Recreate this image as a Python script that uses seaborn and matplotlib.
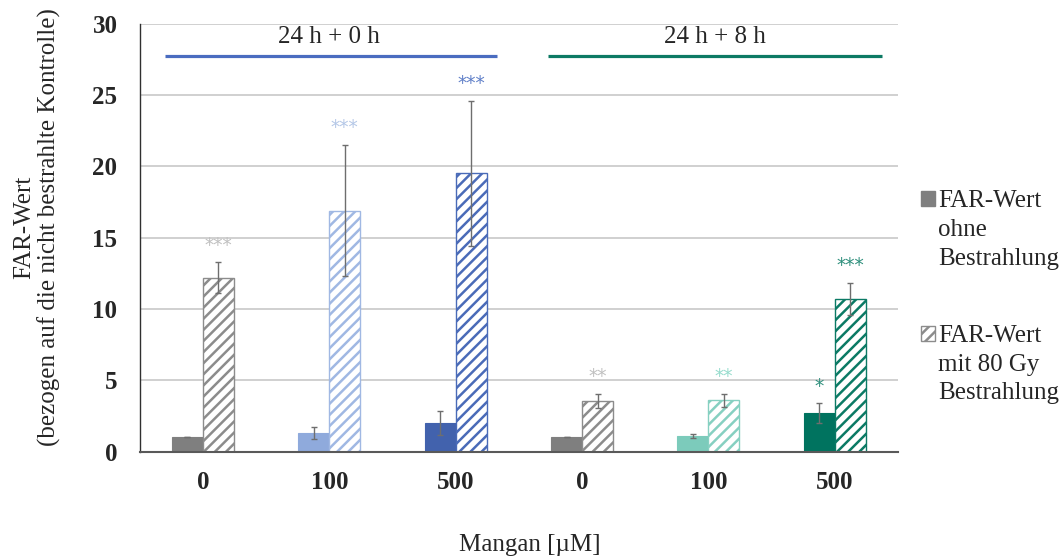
import numpy as np
import pandas as pd
import matplotlib.pyplot as plt
import seaborn as sns
from matplotlib.patches import Patch, Rectangle
from matplotlib.legend_handler import HandlerPatch

# Werte
dosen = ["0", "100", "500", "0", "100", "500"]
gruppen = ["24 h + 0 h", "24 h + 8 h"]
far_ohne = [1.0, 1.3, 2.0, 1.0, 1.1, 2.7]
far_ohne_err = [0.0, 0.42, 0.84, 0.0, 0.12, 0.7]
far_mit = [12.2, 16.9, 19.5, 3.57, 3.6, 10.7]
far_mit_err = [1.1, 4.6, 5.1, 0.49, 0.47, 1.12]
sterne_ohne = ["", "", "", "", "", "*"]
sterne_mit = ["***", "***", "***", "**", "**", "***"]
stern_y_ohne = [0, 0, 0, 0, 0, 4.6]
stern_y_mit = [14.45, 22.75, 25.8, 5.3, 5.3, 13.05]

# Farben
farben_ohne = ["#7f7f7f", "#8faadc", "#4262ad", "#7f7f7f", "#7ccbbb", "#00735f"]
farben_mit = ["#8c8c8c", "#a0b8e3", "#4a6bb8", "#8c8c8c", "#86d0c1", "#0b7a65"]
stern_farben_ohne = ["#bfbfbf"] * 5 + ["#2e8f7c"]
stern_farben_mit = ["#c0c0c0", "#b4c7e7", "#5f7fc8", "#c0c0c0", "#96dccd", "#2e8f7c"]
linien_farben = ["#4a6cc0", "#0d7a64"]

keys = [f"k{i}" for i in range(len(dosen))]
df = pd.DataFrame({
    "pos": keys * 2,
    "wert": far_ohne + far_mit,
    "bed": ["ohne"] * 6 + ["mit"] * 6,
})

sns.set_style("white")
plt.rcParams['font.family'] = ['Liberation Serif', 'DejaVu Serif']
plt.rcParams['hatch.linewidth'] = 1.8

fig = plt.figure(figsize=(10.64, 5.56), dpi=100)
ax = fig.add_axes([0.1313, 0.1876, 0.7127, 0.7698])

sns.barplot(data=df, x="pos", y="wert", hue="bed", order=keys,
            hue_order=["ohne", "mit"], palette=["#7f7f7f", "#8c8c8c"],
            width=0.49, errorbar=None, legend=False, ax=ax)

# Balken einfärben / schraffieren
for i, p in enumerate(ax.containers[0]):
    p.set_facecolor(farben_ohne[i])
    p.set_edgecolor(farben_ohne[i])
    p.set_linewidth(0.8)
for i, p in enumerate(ax.containers[1]):
    p.set_facecolor("white")
    p.set_edgecolor(farben_mit[i])
    p.set_hatch("///")
    p.set_linewidth(1.0)

# Fehlerbalken und Sterne
for cont, errs, sterne, sy, sf in [
        (ax.containers[0], far_ohne_err, sterne_ohne, stern_y_ohne, stern_farben_ohne),
        (ax.containers[1], far_mit_err, sterne_mit, stern_y_mit, stern_farben_mit)]:
    xs = [p.get_x() + p.get_width() / 2 for p in cont]
    hs = [p.get_height() for p in cont]
    ax.errorbar(xs, hs, yerr=errs, fmt="none", ecolor="#6e6e6e",
                elinewidth=1.0, capsize=2.5, capthick=1.0, zorder=4)
    for x, s, y, c in zip(xs, sterne, sy, sf):
        if s:
            ax.text(x, y, s, ha="center", va="center", fontsize=13.5,
                    color=c, family="DejaVu Sans")

# Gruppenlinien oben
ax.plot([-0.3, 2.33], [27.75, 27.75], color=linien_farben[0], lw=2.3,
        solid_capstyle="butt")
ax.plot([2.73, 5.37], [27.75, 27.75], color=linien_farben[1], lw=2.3,
        solid_capstyle="butt")
ax.text(1.0, 29.1, gruppen[0], ha="center", va="center", fontsize=18)
ax.text(4.05, 29.1, gruppen[1], ha="center", va="center", fontsize=18)

# Achsen
ax.set_xlim(-0.5, 5.5)
ax.set_ylim(0, 30)
ax.set_yticks(range(0, 31, 5))
ax.set_xticks(range(6))
ax.set_xticklabels(dosen)
ax.set_xticks(np.arange(-0.5, 6, 1), minor=True)
ax.tick_params(axis="x", which="major", length=0, pad=14, labelsize=18)
ax.tick_params(axis="x", which="minor", length=6, width=1.2,
               color="#595959", direction="out")
ax.tick_params(axis="y", length=6, width=1.0, color="#404040",
               direction="out", pad=10, labelsize=18)
for lab in ax.get_xticklabels() + ax.get_yticklabels():
    lab.set_fontweight("bold")
ax.yaxis.grid(True, color="#c8c8c8", lw=1.2)
ax.set_axisbelow(True)
for s in ["top", "right"]:
    ax.spines[s].set_visible(False)
ax.spines["left"].set_color("#303030")
ax.spines["left"].set_linewidth(1.0)
ax.spines["bottom"].set_color("#595959")
ax.spines["bottom"].set_linewidth(1.5)

ax.set_xlabel("Mangan [µM]", fontsize=18)
ax.xaxis.set_label_coords(0.515, -0.193)
ax.set_ylabel("FAR-Wert\n(bezogen auf die nicht bestrahlte Kontrolle)",
              fontsize=18, linespacing=1.15)
ax.yaxis.set_label_coords(-0.104, 0.525)

# Legende
def handle_oben(legend, orig_handle, xdescent, ydescent, width, height, fontsize):
    return Rectangle((-xdescent, -ydescent + 1.23 * fontsize), width, height)

handles = [Patch(facecolor="#7f7f7f", edgecolor="#7f7f7f"),
           Patch(facecolor="white", edgecolor="#8c8c8c", hatch="///")]
labels = ["FAR-Wert\nohne\nBestrahlung", "FAR-Wert\nmit 80 Gy\nBestrahlung"]
leg = fig.legend(handles, labels, loc="upper left", bbox_to_anchor=(0.8656, 0.658),
                 frameon=False, fontsize=18, handlelength=0.55, handleheight=0.55,
                 handletextpad=0.15, labelspacing=2.2, borderpad=0, borderaxespad=0,
                 handler_map={Patch: HandlerPatch(patch_func=handle_oben)})
for t in leg.get_texts():
    t.set_linespacing(1.4)

fig.savefig("out.png", dpi=100)
